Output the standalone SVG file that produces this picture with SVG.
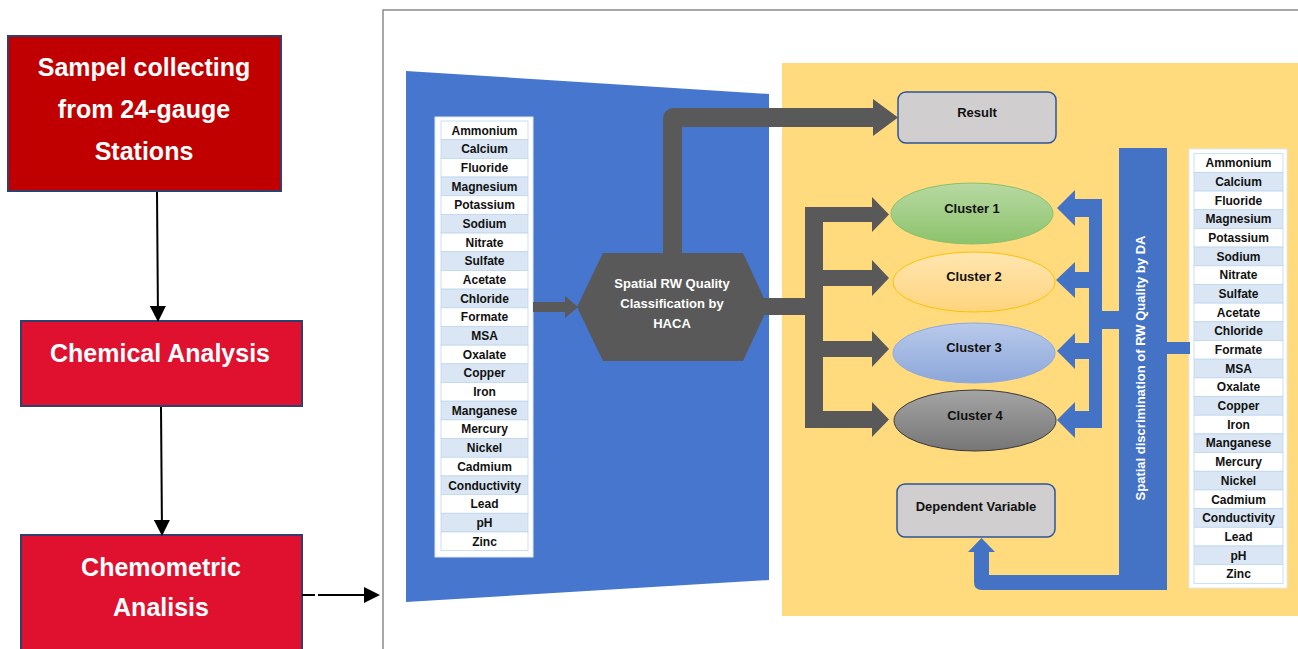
<svg xmlns="http://www.w3.org/2000/svg" width="1298" height="649" viewBox="0 0 1298 649">
<style>
.box1{fill:#C00000;stroke:#2F3F70;stroke-width:2}
.box2{fill:#E0102F;stroke:#2F3F70;stroke-width:2}
.bt{font-family:"Liberation Sans",Arial,sans-serif;font-weight:bold;font-size:25px;fill:#fff;text-anchor:middle}
.t13{font-family:"Liberation Sans",Arial,sans-serif;font-weight:bold;font-size:13px;fill:#111;text-anchor:middle}
.tw{font-family:"Liberation Sans",Arial,sans-serif;font-weight:bold;font-size:13px;fill:#fff;text-anchor:middle}
.tt{font-family:"Liberation Sans",Arial,sans-serif;font-weight:bold;font-size:12px;fill:#111;text-anchor:middle}
.thin{stroke:#000;stroke-width:2;fill:none}
.gray{fill:#595959}
.blue{fill:#4472C4}
.rw{fill:#fff;stroke:#BDD7EE;stroke-width:0.8}
.rb{fill:#DAE6F4;stroke:#BDD7EE;stroke-width:0.8}
.gbox{fill:#D0CECE;stroke:#2F5597;stroke-width:1.5}
</style>
<defs>
<marker id="ah" markerWidth="8" markerHeight="8" refX="7" refY="4" orient="auto" markerUnits="userSpaceOnUse" viewBox="0 0 8 8">
<path d="M0,0 L8,4 L0,8 Z" fill="#000"/>
</marker>
<marker id="ahb" markerWidth="16" markerHeight="16" refX="14" refY="8" orient="auto" markerUnits="userSpaceOnUse" viewBox="0 0 16 16">
<path d="M0,0 L16,8 L0,16 Z" fill="#000"/>
</marker>
<linearGradient id="g1" x1="0" y1="0" x2="0" y2="1"><stop offset="0" stop-color="#B7D9A2"/><stop offset="1" stop-color="#8DC36C"/></linearGradient>
<linearGradient id="g2" x1="0" y1="0" x2="0" y2="1"><stop offset="0" stop-color="#FFE6B0"/><stop offset="1" stop-color="#FFD47E"/></linearGradient>
<linearGradient id="g3" x1="0" y1="0" x2="0" y2="1"><stop offset="0" stop-color="#B9CAEA"/><stop offset="1" stop-color="#8CA7DA"/></linearGradient>
<linearGradient id="g4" x1="0" y1="0" x2="0" y2="1"><stop offset="0" stop-color="#A4A4A4"/><stop offset="1" stop-color="#767676"/></linearGradient>
</defs>

<rect x="0" y="0" width="1298" height="649" fill="#fff"/>

<!-- frame -->
<rect x="383" y="10" width="1000" height="700" fill="none" stroke="#8A8A8A" stroke-width="1.5"/>
<!-- blue trapezoid -->
<polygon points="406,71 769,94 769,580 406,602" fill="#4676CE"/>
<!-- yellow panel -->
<rect x="782" y="63" width="520" height="553" fill="#FFDB7E"/>

<!-- left flow nodes -->
<g id="n-sample">
<rect class="box1" x="8" y="36" width="273" height="155"/>
<text class="bt" x="144" y="76">Sampel collecting</text>
<text class="bt" x="144" y="118">from 24-gauge</text>
<text class="bt" x="144" y="160">Stations</text>
</g>
<g id="n-chem">
<rect class="box2" x="21" y="321" width="281" height="85"/>
<text class="bt" x="160" y="362">Chemical Analysis</text>
</g>
<g id="n-chemo">
<rect class="box2" x="21" y="535" width="281" height="130"/>
<text class="bt" x="161" y="576">Chemometric</text>
<text class="bt" x="161" y="616">Analisis</text>
</g>

<!-- left table -->
<g id="n-table-left">
<rect x="435" y="117" width="98" height="440" fill="#fff" stroke="#DDE8F5" stroke-width="1"/>
<g transform="translate(441,121)">
<rect class="rw" x="0" y="0" width="87" height="18.68"/><text class="tt" x="43.5" y="13.6">Ammonium</text>
<rect class="rb" x="0" y="18.68" width="87" height="18.68"/><text class="tt" x="43.5" y="32.28">Calcium</text>
<rect class="rw" x="0" y="37.36" width="87" height="18.68"/><text class="tt" x="43.5" y="50.96">Fluoride</text>
<rect class="rb" x="0" y="56.04" width="87" height="18.68"/><text class="tt" x="43.5" y="69.64">Magnesium</text>
<rect class="rw" x="0" y="74.72" width="87" height="18.68"/><text class="tt" x="43.5" y="88.32">Potassium</text>
<rect class="rb" x="0" y="93.4" width="87" height="18.68"/><text class="tt" x="43.5" y="107">Sodium</text>
<rect class="rw" x="0" y="112.08" width="87" height="18.68"/><text class="tt" x="43.5" y="125.68">Nitrate</text>
<rect class="rb" x="0" y="130.76" width="87" height="18.68"/><text class="tt" x="43.5" y="144.36">Sulfate</text>
<rect class="rw" x="0" y="149.44" width="87" height="18.68"/><text class="tt" x="43.5" y="163.04">Acetate</text>
<rect class="rb" x="0" y="168.12" width="87" height="18.68"/><text class="tt" x="43.5" y="181.72">Chloride</text>
<rect class="rw" x="0" y="186.8" width="87" height="18.68"/><text class="tt" x="43.5" y="200.4">Formate</text>
<rect class="rb" x="0" y="205.48" width="87" height="18.68"/><text class="tt" x="43.5" y="219.08">MSA</text>
<rect class="rw" x="0" y="224.16" width="87" height="18.68"/><text class="tt" x="43.5" y="237.76">Oxalate</text>
<rect class="rb" x="0" y="242.84" width="87" height="18.68"/><text class="tt" x="43.5" y="256.44">Copper</text>
<rect class="rw" x="0" y="261.52" width="87" height="18.68"/><text class="tt" x="43.5" y="275.12">Iron</text>
<rect class="rb" x="0" y="280.2" width="87" height="18.68"/><text class="tt" x="43.5" y="293.8">Manganese</text>
<rect class="rw" x="0" y="298.88" width="87" height="18.68"/><text class="tt" x="43.5" y="312.48">Mercury</text>
<rect class="rb" x="0" y="317.56" width="87" height="18.68"/><text class="tt" x="43.5" y="331.16">Nickel</text>
<rect class="rw" x="0" y="336.24" width="87" height="18.68"/><text class="tt" x="43.5" y="349.84">Cadmium</text>
<rect class="rb" x="0" y="354.92" width="87" height="18.68"/><text class="tt" x="43.5" y="368.52">Conductivity</text>
<rect class="rw" x="0" y="373.6" width="87" height="18.68"/><text class="tt" x="43.5" y="387.2">Lead</text>
<rect class="rb" x="0" y="392.28" width="87" height="18.68"/><text class="tt" x="43.5" y="405.88">pH</text>
<rect class="rw" x="0" y="410.96" width="87" height="18.68"/><text class="tt" x="43.5" y="424.56">Zinc</text>
</g>
</g>

<!-- right table -->
<g id="n-table-right">
<rect x="1189" y="149" width="98" height="439" fill="#fff" stroke="#DDE8F5" stroke-width="1"/>
<g transform="translate(1194,153.7)">
<rect class="rw" x="0" y="0" width="89" height="18.68"/><text class="tt" x="44.5" y="13.6">Ammonium</text>
<rect class="rb" x="0" y="18.68" width="89" height="18.68"/><text class="tt" x="44.5" y="32.28">Calcium</text>
<rect class="rw" x="0" y="37.36" width="89" height="18.68"/><text class="tt" x="44.5" y="50.96">Fluoride</text>
<rect class="rb" x="0" y="56.04" width="89" height="18.68"/><text class="tt" x="44.5" y="69.64">Magnesium</text>
<rect class="rw" x="0" y="74.72" width="89" height="18.68"/><text class="tt" x="44.5" y="88.32">Potassium</text>
<rect class="rb" x="0" y="93.4" width="89" height="18.68"/><text class="tt" x="44.5" y="107">Sodium</text>
<rect class="rw" x="0" y="112.08" width="89" height="18.68"/><text class="tt" x="44.5" y="125.68">Nitrate</text>
<rect class="rb" x="0" y="130.76" width="89" height="18.68"/><text class="tt" x="44.5" y="144.36">Sulfate</text>
<rect class="rw" x="0" y="149.44" width="89" height="18.68"/><text class="tt" x="44.5" y="163.04">Acetate</text>
<rect class="rb" x="0" y="168.12" width="89" height="18.68"/><text class="tt" x="44.5" y="181.72">Chloride</text>
<rect class="rw" x="0" y="186.8" width="89" height="18.68"/><text class="tt" x="44.5" y="200.4">Formate</text>
<rect class="rb" x="0" y="205.48" width="89" height="18.68"/><text class="tt" x="44.5" y="219.08">MSA</text>
<rect class="rw" x="0" y="224.16" width="89" height="18.68"/><text class="tt" x="44.5" y="237.76">Oxalate</text>
<rect class="rb" x="0" y="242.84" width="89" height="18.68"/><text class="tt" x="44.5" y="256.44">Copper</text>
<rect class="rw" x="0" y="261.52" width="89" height="18.68"/><text class="tt" x="44.5" y="275.12">Iron</text>
<rect class="rb" x="0" y="280.2" width="89" height="18.68"/><text class="tt" x="44.5" y="293.8">Manganese</text>
<rect class="rw" x="0" y="298.88" width="89" height="18.68"/><text class="tt" x="44.5" y="312.48">Mercury</text>
<rect class="rb" x="0" y="317.56" width="89" height="18.68"/><text class="tt" x="44.5" y="331.16">Nickel</text>
<rect class="rw" x="0" y="336.24" width="89" height="18.68"/><text class="tt" x="44.5" y="349.84">Cadmium</text>
<rect class="rb" x="0" y="354.92" width="89" height="18.68"/><text class="tt" x="44.5" y="368.52">Conductivity</text>
<rect class="rw" x="0" y="373.6" width="89" height="18.68"/><text class="tt" x="44.5" y="387.2">Lead</text>
<rect class="rb" x="0" y="392.28" width="89" height="18.68"/><text class="tt" x="44.5" y="405.88">pH</text>
<rect class="rw" x="0" y="410.96" width="89" height="18.68"/><text class="tt" x="44.5" y="424.56">Zinc</text>
</g>
</g>

<!-- connectors -->
<g id="connectors">
<line class="thin" x1="157" y1="192" x2="158" y2="320" marker-end="url(#ahb)"/>
<line class="thin" x1="161" y1="407" x2="162" y2="534" marker-end="url(#ahb)"/>
<line class="thin" x1="302" y1="595" x2="315" y2="595"/>
<line class="thin" x1="318" y1="595" x2="378" y2="595" marker-end="url(#ahb)"/>

<!-- list to hexagon -->
<rect class="gray" x="533" y="302" width="33" height="10"/>
<polygon class="gray" points="565,296 578,307 565,318"/>
<!-- hexagon to result -->
<path class="gray" d="M663,254 V120 Q663,108 675,108 H874 V127 H682 V254 Z"/>
<polygon class="gray" points="873,99 898,117.5 873,136"/>
<!-- hexagon to clusters -->
<rect class="gray" x="760" y="298" width="54" height="17"/>
<rect class="gray" x="805" y="207" width="18" height="221"/>
<rect class="gray" x="815" y="207" width="58" height="15"/>
<polygon class="gray" points="872,197 889,214.5 872,232"/>
<rect class="gray" x="815" y="270" width="58" height="16"/>
<polygon class="gray" points="872,260 889,278 872,296"/>
<rect class="gray" x="815" y="341" width="58" height="16"/>
<polygon class="gray" points="872,331 889,349 872,367"/>
<rect class="gray" x="815" y="411" width="58" height="17"/>
<polygon class="gray" points="872,402 889,419.5 872,437"/>

<!-- DA to clusters -->
<rect class="blue" x="1089" y="199" width="13" height="229"/>
<rect class="blue" x="1074" y="199" width="20" height="18"/>
<polygon class="blue" points="1075,190 1057,208 1075,226"/>
<rect class="blue" x="1074" y="272" width="20" height="16"/>
<polygon class="blue" points="1075,262 1056,280 1075,298"/>
<rect class="blue" x="1074" y="343" width="20" height="16"/>
<polygon class="blue" points="1075,333 1057,351 1075,369"/>
<rect class="blue" x="1074" y="411" width="20" height="17"/>
<polygon class="blue" points="1075,402 1057,420 1075,438"/>
<rect class="blue" x="1100" y="311" width="21" height="18"/>
<rect class="blue" x="1166" y="342" width="24" height="12"/>
<!-- DA to dependent variable -->
<path class="blue" d="M1120,575 H989 V552 H995 L981.5,538 L968,552 H974 V582 Q974,590 982,590 H1120 Z"/>
</g>

<!-- nodes in right panel -->
<g id="n-hexagon">
<polygon points="577,307 603,253 743,253 768,307 743,361 603,361" fill="#595959"/>
<text class="tw" x="672" y="288">Spatial RW Quality</text>
<text class="tw" x="672" y="308">Classification by</text>
<text class="tw" x="672" y="328">HACA</text>
</g>
<g id="n-result">
<rect class="gbox" x="898" y="92" width="158" height="51" rx="8"/>
<text class="t13" x="977" y="117">Result</text>
</g>
<g id="n-cluster1">
<ellipse cx="972" cy="213.5" rx="81" ry="30.5" fill="url(#g1)" stroke="#8CC06A" stroke-width="1"/>
<text class="t13" x="972" y="213">Cluster 1</text>
</g>
<g id="n-cluster2">
<ellipse cx="974" cy="282" rx="81" ry="30" fill="url(#g2)" stroke="#FFC000" stroke-width="1"/>
<text class="t13" x="974" y="281">Cluster 2</text>
</g>
<g id="n-cluster3">
<ellipse cx="974" cy="353" rx="81" ry="30" fill="url(#g3)" stroke="#8FAADC" stroke-width="1"/>
<text class="t13" x="974" y="352">Cluster 3</text>
</g>
<g id="n-cluster4">
<ellipse cx="975" cy="420.5" rx="81" ry="30.5" fill="url(#g4)" stroke="#3A3A3A" stroke-width="1"/>
<text class="t13" x="975" y="420">Cluster 4</text>
</g>
<g id="n-dependent">
<rect class="gbox" x="897" y="484" width="158" height="53" rx="8"/>
<text class="t13" x="976" y="511">Dependent Variable</text>
</g>
<g id="n-da">
<rect x="1119" y="148" width="48" height="442" fill="#4472C4"/>
<text class="tw" transform="translate(1144.5,368) rotate(-90)" x="0" y="0">Spatial discrimination of RW Quality by DA</text>
</g>
</svg>
